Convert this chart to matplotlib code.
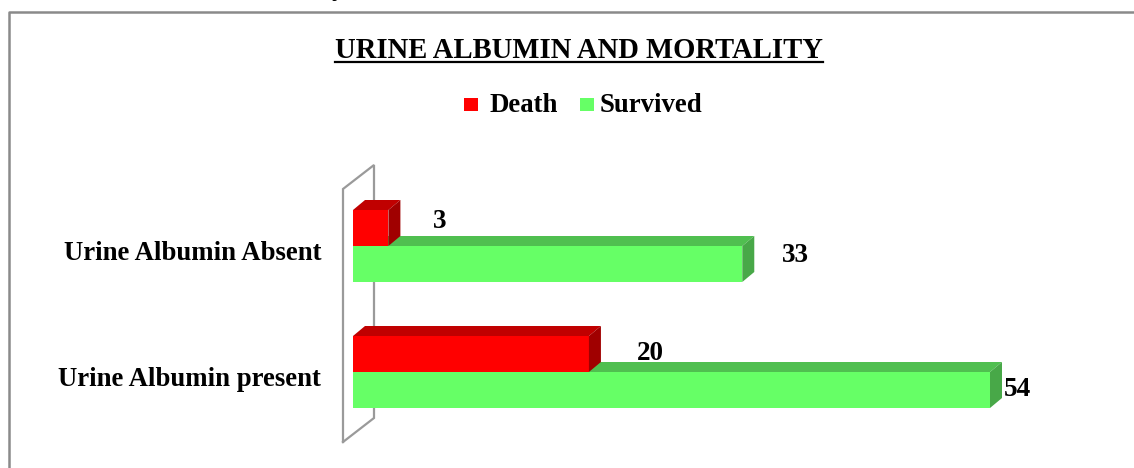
import matplotlib
matplotlib.use("Agg")
import matplotlib.pyplot as plt
from matplotlib.patches import Polygon, Rectangle
from matplotlib.lines import Line2D

# ---- data ----
categories = ["Urine Albumin present", "Urine Albumin Absent"]
death = [20, 3]
survived = [54, 33]
series_names = ["Death", "Survived"]
title = "URINE ALBUMIN AND MORTALITY"

# ---- style ----
W, H = 1134, 468
DPI = 100
FONT = ["Liberation Serif", "DejaVu Serif"]
plt.rcParams["font.family"] = FONT
plt.rcParams["font.weight"] = "bold"

front = {"Death": "#FF0000", "Survived": "#66FF66"}
top = {"Death": "#C00000", "Survived": "#50BF50"}
side = {"Death": "#A00000", "Survived": "#48A848"}

fig = plt.figure(figsize=(W / DPI, H / DPI), dpi=DPI)
fig.patch.set_facecolor("white")

def fx(px):
    return px / W

def fy(py):
    return 1 - py / H

# axes in pixel layout: x=0 at px 353, ~11.8 px per unit
x0_px, ppu_x = 353, (990 - 353) / 54.0
xmax = 60
ax_left, ax_right = x0_px, x0_px + xmax * ppu_x
ppu_y = 126.0
y_top_px, y_bot_px = 150, 450
ylim_top = (372 - y_top_px) / ppu_y
ylim_bot = (372 - y_bot_px) / ppu_y
ax = fig.add_axes([fx(ax_left), fy(y_bot_px), fx(ax_right - ax_left),
                   (y_bot_px - y_top_px) / H])
ax.set_xlim(0, xmax)
ax.set_ylim(ylim_bot, ylim_top)
ax.axis("off")

bh = 36 / ppu_y
dx = 12 / ppu_x
dy = 10 / ppu_y
ypos = [0, 1]

def bar3d(y0, y1, v, name, z):
    ax.add_patch(Polygon([(0, y0), (v, y0), (v, y1), (0, y1)], closed=True,
                         facecolor=front[name], edgecolor="none", zorder=z))
    ax.add_patch(Polygon([(0, y1), (v, y1), (v + dx, y1 + dy), (dx, y1 + dy)],
                         closed=True, facecolor=top[name], edgecolor="none", zorder=z))
    ax.add_patch(Polygon([(v, y0), (v + dx, y0 + dy), (v + dx, y1 + dy), (v, y1)],
                         closed=True, facecolor=side[name], edgecolor="none", zorder=z))

# back wall (3D frame)
wall_dx = 31 / ppu_x
wall_dy = 24 / ppu_y
wx = -10 / ppu_x
wy_bot = (372 - 442) / ppu_y
wy_top = (372 - 189) / ppu_y
wall_col = "#9A9A9A"
ax.plot([wx, wx, wx + wall_dx, wx + wall_dx, wx],
        [wy_bot, wy_top, wy_top + wall_dy, wy_bot + wall_dy, wy_bot],
        color=wall_col, lw=1.6, zorder=1, clip_on=False, solid_joinstyle="miter")

label_off = {"Death": [(61, 0), (51, 6)], "Survived": [(27, 0), (53, 8)]}

for i, y in enumerate(ypos):
    bar3d(y - bh, y, survived[i], "Survived", 2 + i * 2)
    bar3d(y, y + bh, death[i], "Death", 3 + i * 2)

for i, y in enumerate(ypos):
    ox, oy = label_off["Death"][i]
    ax.annotate(str(death[i]), (death[i], y + bh / 2), xytext=(ox, oy),
                textcoords="offset pixels", ha="center", va="center",
                fontsize=19.5, fontweight="bold", annotation_clip=False)
    ox, oy = label_off["Survived"][i]
    ax.annotate(str(survived[i]), (survived[i], y - bh / 2), xytext=(ox, oy),
                textcoords="offset pixels", ha="center", va="center",
                fontsize=19.5, fontweight="bold", annotation_clip=False)

# category labels
for i, y in enumerate(ypos):
    ax.annotate(categories[i], (0, y), xytext=(-32, -8),
                textcoords="offset pixels", ha="right", va="center",
                fontsize=19.3, fontweight="bold", annotation_clip=False)

# title with underline
t = fig.text(fx(579), fy(50), title, ha="center", va="center",
             fontsize=20.6, fontweight="bold")
fig.canvas.draw()
bb = t.get_window_extent(fig.canvas.get_renderer())
fig.add_artist(Line2D([bb.x0 / W, bb.x1 / W], [fy(62), fy(62)],
                      transform=fig.transFigure, color="black", lw=1.6))

# legend (manual layout matching the reference spacing)
leg_items = [(464, 490), (580, 600)]
for (sq_x, tx_x), name in zip(leg_items, series_names):
    fig.add_artist(Rectangle((fx(sq_x), fy(111)), fx(13.5), 13.5 / H,
                             transform=fig.transFigure, facecolor=front[name],
                             edgecolor="none"))
    fig.text(fx(tx_x), fy(106), name, ha="left", va="center",
             fontsize=19.3, fontweight="bold")

# outer border (partially visible frame)
fig.add_artist(Line2D([fx(9), fx(9), fx(1140)], [fy(480), fy(11.5), fy(11.5)],
                      transform=fig.transFigure, color="#8A8A8A", lw=1.8))

# fragment of text above the frame (cropped in the original)
fig.text(fx(338), fy(-10), "y", ha="center", va="center", fontsize=19,
         fontweight="normal")

fig.savefig("out.png", dpi=DPI, facecolor="white")
